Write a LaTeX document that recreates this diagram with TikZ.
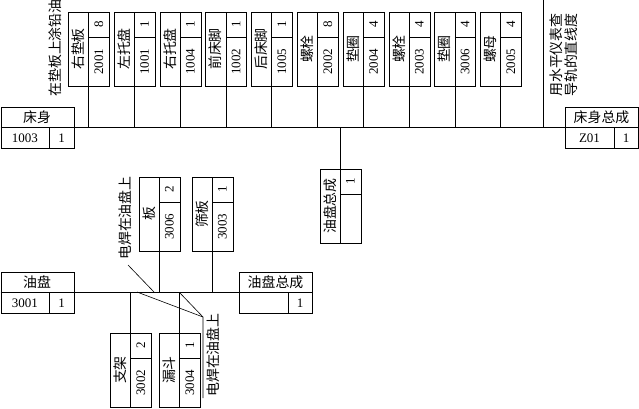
\documentclass[tikz,border=0pt]{standalone}
\usepackage{fontspec}
\setmainfont{Liberation Serif}
\newfontfamily\cjk[Scale=1.07]{Noto Sans CJK SC}
\usetikzlibrary{calc}
\tikzset{
  ln/.style={line width=0.6pt},
  frame/.style={draw, line width=0.6pt, inner sep=0pt, anchor=north west},
  txt/.style={inner sep=0pt, font=\fontsize{13}{15}\selectfont},
  vtxt/.style={txt, rotate=90},
  ctxt/.style={inner sep=0pt, font=\fontsize{13}{15}\selectfont\cjk},
  vctxt/.style={ctxt, rotate=90},
}
\newcommand\partV[6]{%
  \node[frame, minimum width=41pt, minimum height=74pt] (#1) at (#2,#3) {};
  \draw[ln] (#2+20.5,#3) coordinate (#1-t) -- (#2+20.5,#3+74) coordinate (#1-b);
  \draw[ln] (#2+20.5,#3+25) -- (#2+41,#3+25);
  \node[vctxt] (#1-n) at (#2+10.25,#3+37) {#4};
  \node[vtxt] (#1-c) at (#2+30.75,#3+49.5) {#5};
  \node[vtxt] (#1-q) at (#2+30.75,#3+12.5) {#6};
}
\newcommand\partH[6]{%
  \node[frame, minimum width=73pt, minimum height=41pt] (#1) at (#2,#3) {};
  \draw[ln] (#2,#3+20.5) coordinate (#1-l) -- (#2+73,#3+20.5) coordinate (#1-r);
  \draw[ln] (#2+49,#3+20.5) -- (#2+49,#3+41);
  \node[ctxt] (#1-n) at (#2+36.5,#3+10.25) {#4};
  \node[txt] (#1-c) at (#2+24.5,#3+30.75) {#5};
  \node[txt] (#1-q) at (#2+61,#3+30.75) {#6};
}
\begin{document}
\begin{tikzpicture}[x=1pt,y=-1pt]
\useasboundingbox (0,0) rectangle (639,408);
% bed
\partH{cs}{0.5}{107}{床身}{1003}{1}
\partH{csz}{565}{107}{床身总成}{Z01}{1}
\draw[ln] (cs-r) -- (csz-l);
\partV{t1}{68}{12}{右垫板}{2001}{8}
\partV{t2}{113.8}{12}{左托盘}{1001}{1}
\partV{t3}{159.6}{12}{右托盘}{1004}{1}
\partV{t4}{205.4}{12}{前床脚}{1002}{1}
\partV{t5}{251.2}{12}{后床脚}{1005}{1}
\partV{t6}{297}{12}{螺栓}{2002}{8}
\partV{t7}{342.8}{12}{垫圈}{2004}{4}
\partV{t8}{388.6}{12}{螺栓}{2003}{4}
\partV{t9}{434.4}{12}{垫圈}{3006}{4}
\partV{t10}{480.2}{12}{螺母}{2005}{4}
\foreach \i in {1,...,10} { \draw[ln] (t\i-b) -- (t\i-b |- cs-r); }
\coordinate (chk) at (543,0);
\draw[ln] (chk) -- (chk |- cs-r);
\node[vctxt, align=left] (chktxt) at (564,55) {用水平仪表查\\导轨的直线度};
\node[vctxt] (oil) at (55,48) {在垫板上涂铅油};
\partV{ypz}{319.5}{169}{油盘总成}{}{1}
\draw[ln] (ypz-t) -- (ypz-t |- cs-r);
% oil pan
\partH{yp}{0.5}{272}{油盘}{3001}{1}
\partH{ypc}{239}{272}{油盘总成}{}{1}
\draw[ln] (yp-r) -- (ypc-l);
\partV{ban}{138.5}{177}{板}{3006}{2}
\partV{sb}{191.5}{177}{筛板}{3003}{1}
\draw[ln] (ban-b) -- (ban-b |- yp-r);
\draw[ln] (sb-b) -- (sb-b |- yp-r);
\partV{zj}{110}{333}{支架}{3002}{2}
\partV{ld}{159}{333}{漏斗}{3004}{1}
\draw[ln] (zj-t |- yp-r) -- (zj-t);
\draw[ln] (ld-t |- yp-r) -- (ld-t);
% welding notes
\node[vctxt] (w1) at (125,218) {电焊在油盘上};
\coordinate (w1a) at (128,265);
\coordinate (w1b) at (154,292);
\draw[ln] (w1a) -- (w1b);
\node[vctxt] (w2) at (213,355) {电焊在油盘上};
\coordinate (w2a) at (137,292);
\coordinate (w2k) at (203,317);
\coordinate (w2e) at (203,398);
\draw[ln] (w2a) -- (w2k);
\draw[ln] (ld-t |- yp-r) -- (w2k) -- (w2e);
\end{tikzpicture}
\end{document}
